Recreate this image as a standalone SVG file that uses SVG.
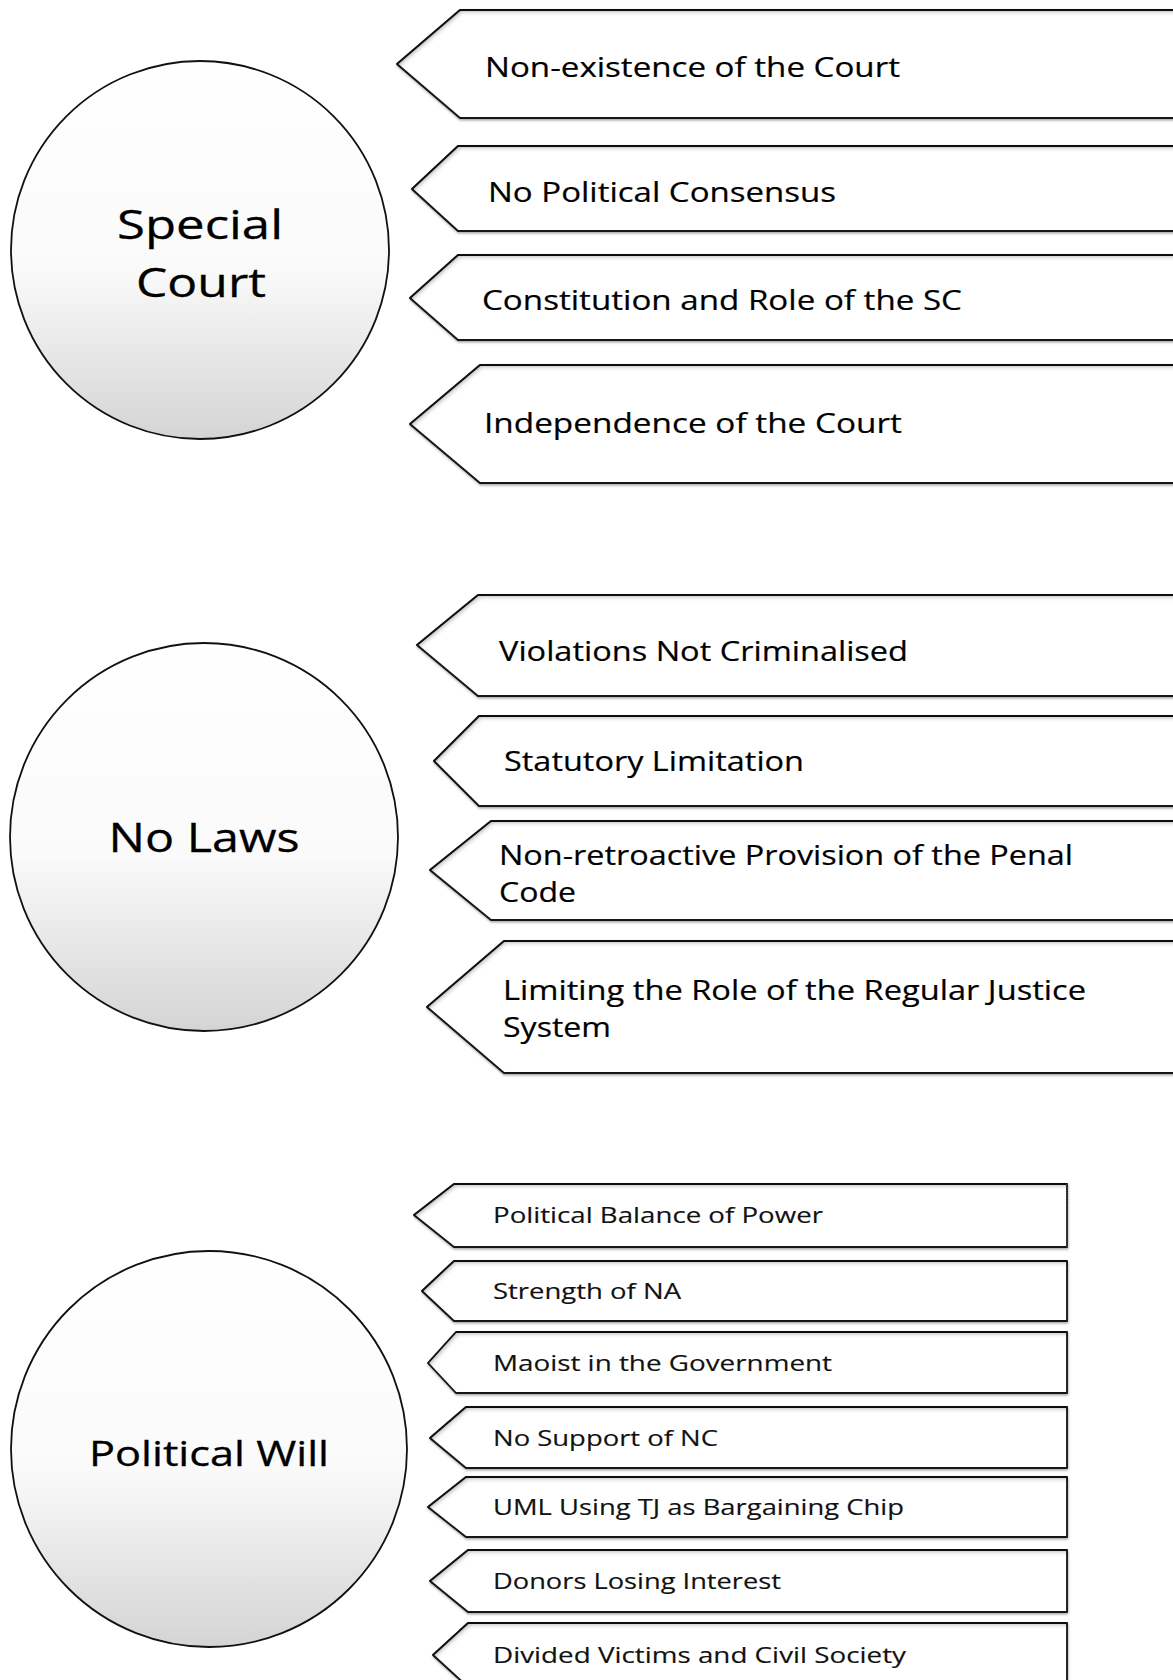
<svg xmlns="http://www.w3.org/2000/svg" width="1173" height="1680" viewBox="0 0 1173 1680">
<defs>
<linearGradient id="cg" x1="0" y1="0" x2="0" y2="1">
<stop offset="0" stop-color="#ffffff"/>
<stop offset="0.55" stop-color="#fafafa"/>
<stop offset="1" stop-color="#d4d4d4"/>
</linearGradient>
<filter id="sh" x="-5%" y="-30%" width="110%" height="160%">
<feComponentTransfer in="SourceAlpha" result="inv"><feFuncA type="table" tableValues="1 0"/></feComponentTransfer>
<feGaussianBlur in="inv" stdDeviation="2.2" result="b"/>
<feOffset in="b" dx="2" dy="3" result="o"/>
<feFlood flood-color="#000" flood-opacity="0.55"/>
<feComposite in2="o" operator="in"/>
<feComposite in2="SourceAlpha" operator="in" result="inner"/>
<feDropShadow in="SourceGraphic" dx="0.5" dy="1.5" stdDeviation="1" flood-color="#000" flood-opacity="0.35" result="outer"/>
<feMerge><feMergeNode in="outer"/><feMergeNode in="inner"/></feMerge>
</filter>
</defs>
<style>
.circ{fill:url(#cg);stroke:#111;stroke-width:1.8}
.box{fill:#fff;stroke:#1a1a1a;stroke-width:1.8;stroke-linejoin:round}
.redge{stroke:#444;stroke-width:1.5;stroke-dasharray:1.5 1.2;fill:none}
.ct{font-family:"Open Sans","Noto Sans",sans-serif;fill:#000;stroke:#000;stroke-width:0.3;text-anchor:middle}
.t{font-family:"Open Sans","Noto Sans",sans-serif;fill:#000;stroke:#000;stroke-width:0.2;font-size:27px}
.s{font-family:"Open Sans","Noto Sans",sans-serif;fill:#111;stroke:#111;stroke-width:0.15;font-size:22px}
</style>
<rect width="1173" height="1680" fill="#fff"/>
<g id="connectors"/>

<g id="special-court">
<circle class="circ" cx="200" cy="250" r="189"/>
<text class="ct" x="200" y="239" font-size="40" textLength="166" lengthAdjust="spacingAndGlyphs">Special</text>
<text class="ct" x="201" y="297" font-size="40" textLength="130" lengthAdjust="spacingAndGlyphs">Court</text>
</g>
<g id="sc-1">
<path class="box" filter="url(#sh)" d="M1180,10 L460,10 L397,64 L460,118 L1180,118 Z"/>
<text class="t" x="485" y="77" textLength="415" lengthAdjust="spacingAndGlyphs">Non-existence of the Court</text>
</g>
<g id="sc-2">
<path class="box" filter="url(#sh)" d="M1180,146 L458,146 L412,189 L458,231 L1180,231 Z"/>
<text class="t" x="488" y="202" textLength="348" lengthAdjust="spacingAndGlyphs">No Political Consensus</text>
</g>
<g id="sc-3">
<path class="box" filter="url(#sh)" d="M1180,255 L458,255 L410,298 L458,340 L1180,340 Z"/>
<text class="t" x="482" y="310" textLength="480" lengthAdjust="spacingAndGlyphs">Constitution and Role of the SC</text>
</g>
<g id="sc-4">
<path class="box" filter="url(#sh)" d="M1180,365 L480,365 L410,424 L480,483 L1180,483 Z"/>
<text class="t" x="484" y="433" textLength="418" lengthAdjust="spacingAndGlyphs">Independence of the Court</text>
</g>

<g id="no-laws">
<circle class="circ" cx="204" cy="837" r="194"/>
<text class="ct" x="204" y="852" font-size="40" textLength="191" lengthAdjust="spacingAndGlyphs">No Laws</text>
</g>
<g id="nl-1">
<path class="box" filter="url(#sh)" d="M1180,595 L478,595 L417,645 L478,696 L1180,696 Z"/>
<text class="t" x="499" y="661" textLength="409" lengthAdjust="spacingAndGlyphs">Violations Not Criminalised</text>
</g>
<g id="nl-2">
<path class="box" filter="url(#sh)" d="M1180,716 L479,716 L434,761 L479,806 L1180,806 Z"/>
<text class="t" x="504" y="771" textLength="300" lengthAdjust="spacingAndGlyphs">Statutory Limitation</text>
</g>
<g id="nl-3">
<path class="box" filter="url(#sh)" d="M1180,821 L491,821 L430,870 L491,920 L1180,920 Z"/>
<text class="t" x="499" y="865" textLength="574" lengthAdjust="spacingAndGlyphs">Non-retroactive Provision of the Penal</text>
<text class="t" x="499" y="902" textLength="77" lengthAdjust="spacingAndGlyphs">Code</text>
</g>
<g id="nl-4">
<path class="box" filter="url(#sh)" d="M1180,941 L504,941 L427,1007 L504,1073 L1180,1073 Z"/>
<text class="t" x="503" y="1000" textLength="583" lengthAdjust="spacingAndGlyphs">Limiting the Role of the Regular Justice</text>
<text class="t" x="503" y="1037" textLength="108" lengthAdjust="spacingAndGlyphs">System</text>
</g>

<g id="political-will">
<circle class="circ" cx="209" cy="1449" r="198"/>
<text class="ct" x="209" y="1466" font-size="34" textLength="240" lengthAdjust="spacingAndGlyphs">Political Will</text>
</g>
<g id="pw-1">
<path class="box" filter="url(#sh)" d="M1067,1184 L454,1184 L414,1215 L454,1247 L1067,1247 Z"/>
<line class="redge" x1="1067" y1="1184" x2="1067" y2="1247"/>
<text class="s" x="493" y="1223" textLength="330" lengthAdjust="spacingAndGlyphs">Political Balance of Power</text>
</g>
<g id="pw-2">
<path class="box" filter="url(#sh)" d="M1067,1261 L454,1261 L422,1291 L454,1321 L1067,1321 Z"/>
<text class="s" x="493" y="1299" textLength="188" lengthAdjust="spacingAndGlyphs">Strength of NA</text>
</g>
<g id="pw-3">
<path class="box" filter="url(#sh)" d="M1067,1332 L456,1332 L428,1363 L456,1393 L1067,1393 Z"/>
<text class="s" x="493" y="1371" textLength="339" lengthAdjust="spacingAndGlyphs">Maoist in the Government</text>
</g>
<g id="pw-4">
<path class="box" filter="url(#sh)" d="M1067,1407 L466,1407 L430,1438 L466,1468 L1067,1468 Z"/>
<text class="s" x="493" y="1446" textLength="225" lengthAdjust="spacingAndGlyphs">No Support of NC</text>
</g>
<g id="pw-5">
<path class="box" filter="url(#sh)" d="M1067,1477 L466,1477 L428,1507 L466,1537 L1067,1537 Z"/>
<text class="s" x="493" y="1515" textLength="411" lengthAdjust="spacingAndGlyphs">UML Using TJ as Bargaining Chip</text>
</g>
<g id="pw-6">
<path class="box" filter="url(#sh)" d="M1067,1550 L468,1550 L430,1581 L468,1612 L1067,1612 Z"/>
<text class="s" x="493" y="1589" textLength="288" lengthAdjust="spacingAndGlyphs">Donors Losing Interest</text>
</g>
<g id="pw-7">
<path class="box" filter="url(#sh)" d="M1067,1623 L468,1623 L433,1655 L468,1687 L1067,1687 Z"/>
<text class="s" x="493" y="1663" textLength="413" lengthAdjust="spacingAndGlyphs">Divided Victims and Civil Society</text>
</g>
</svg>
